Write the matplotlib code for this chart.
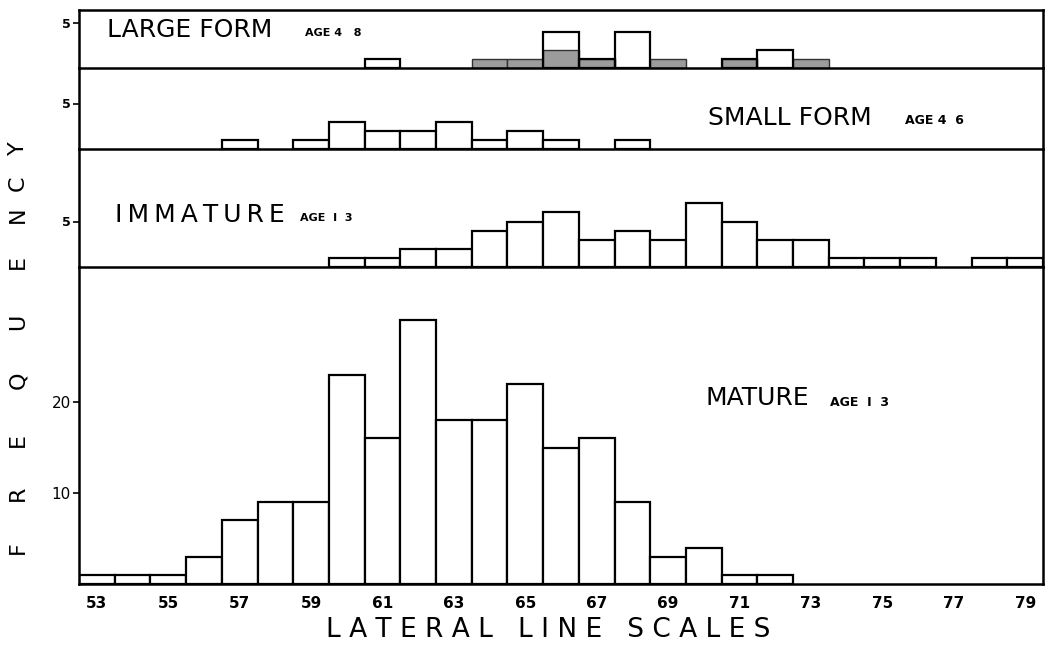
import matplotlib
matplotlib.use("Agg")
import matplotlib.pyplot as plt

# escamas de la linea lateral (clases)
escamas = list(range(53, 80))

# forma grande, edad 4-8 : barras blancas y parte sombreada
grande_blancas = {61: 1, 66: 4, 67: 1, 68: 4, 71: 1, 72: 2}
grande_sombra = {64: 1, 65: 1, 66: 2, 67: 1, 69: 1, 71: 1, 73: 1}

# forma pequeña, edad 4-6
pequena = {57: 1, 59: 1, 60: 3, 61: 2, 62: 2, 63: 3, 64: 1, 65: 2, 66: 1, 68: 1}

# inmaduros, edad 1-3
inmaduros = {60: 1, 61: 1, 62: 2, 63: 2, 64: 4, 65: 5, 66: 6, 67: 3, 68: 4,
             69: 3, 70: 7, 71: 5, 72: 3, 73: 3, 74: 1, 75: 1, 76: 1, 78: 1, 79: 1}

# maduros, edad 1-3
maduros = {53: 1, 54: 1, 55: 1, 56: 3, 57: 7, 58: 9, 59: 9, 60: 23, 61: 16,
           62: 29, 63: 18, 64: 18, 65: 22, 66: 15, 67: 16, 68: 9, 69: 3,
           70: 4, 71: 1, 72: 1}

etiquetas_x = list(range(53, 80, 2))

W, H = 1049, 647
fig = plt.figure(figsize=(W / 100, H / 100), dpi=100)

px_unidad = 9.1
izq, der = 79, 1043
# (arriba, abajo) en pixeles de cada panel
paneles = [(10, 68), (68, 149), (149, 267), (267, 584)]

ejes = []
for arriba, abajo in paneles:
    ax = fig.add_axes([izq / W, 1 - abajo / H, (der - izq) / W, (abajo - arriba) / H])
    ax.set_xlim(52.5, 79.5)
    ax.set_ylim(0, (abajo - arriba) / px_unidad)
    for s in ax.spines.values():
        s.set_linewidth(1.8)
    ax.spines["top"].set_visible(False)
    ax.tick_params(axis="x", bottom=False, labelbottom=False)
    ax.tick_params(axis="y", direction="out", length=4, width=1.2, pad=2)
    ax.patch.set_alpha(0)
    ejes.append(ax)

ejes[0].spines["top"].set_visible(True)


def barras(ax, datos, **kw):
    x = list(datos.keys())
    h = list(datos.values())
    ax.bar(x, h, width=1, align="center", **kw)


barras(ejes[0], grande_sombra, facecolor="#9c9c9c", edgecolor="#333333", linewidth=1.0)
barras(ejes[0], grande_blancas, facecolor="none", edgecolor="black", linewidth=1.6)
barras(ejes[1], pequena, facecolor="white", edgecolor="black", linewidth=1.6)
barras(ejes[2], inmaduros, facecolor="white", edgecolor="black", linewidth=1.6)
barras(ejes[3], maduros, facecolor="white", edgecolor="black", linewidth=1.6)

for ax in ejes[:3]:
    ax.set_yticks([5])
    ax.set_yticklabels(["5"], fontsize=9, fontweight="bold")
ejes[3].set_yticks([10, 20])
ejes[3].set_yticklabels(["10", "20"], fontsize=11)

ejes[3].tick_params(axis="x", labelbottom=True, pad=5)
ejes[3].set_xticks(etiquetas_x)
ejes[3].set_xticklabels([str(v) for v in etiquetas_x], fontsize=11, fontweight="bold")


def texto(x, y, s, **kw):
    fig.text(x / W, 1 - y / H, s, **kw)


ts = "\u2009"  # espacio fino entre letras

# rotulos de los paneles
texto(107, 30, "LARGE FORM", fontsize=18, va="center")
texto(305, 33, "AGE 4   8", fontsize=8, fontweight="bold", va="center")
texto(708, 118, "SMALL FORM", fontsize=18, va="center")
texto(905, 121, "AGE 4  6", fontsize=9, fontweight="bold", va="center")
texto(115, 215, ts.join("IMMATURE"), fontsize=18, va="center")
texto(300, 218, "AGE  I  3", fontsize=8, fontweight="bold", va="center")
texto(706, 398, "MATURE", fontsize=18, va="center")
texto(830, 402, "AGE  I  3", fontsize=9, fontweight="bold", va="center")

# eje vertical: letras espaciadas
letras = ["F", "R", "E", "Q", "U", "E", "N", "C", "Y"]
pos_y = [548, 493, 440, 380, 322, 262, 215, 183, 148]
for letra, y in zip(letras, pos_y):
    texto(18, y, letra, fontsize=16, rotation=90, ha="center", va="center")

texto(548, 630, "L A T E R A L   L I N E   S C A L E S", fontsize=19,
      ha="center", va="center")

fig.savefig("out.png", dpi=100)
